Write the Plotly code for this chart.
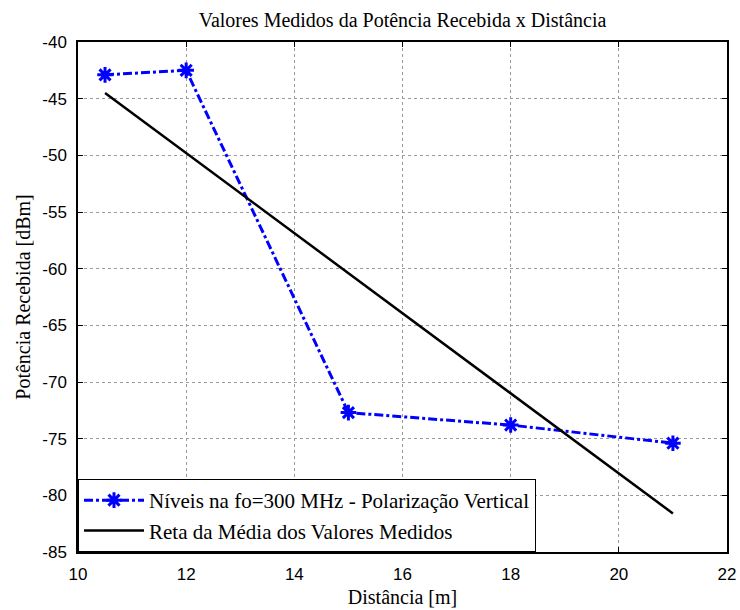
import plotly.graph_objects as go

dist = [10.5, 12, 15, 18, 21]
power = [-42.9, -42.5, -72.7, -73.8, -75.4]
fit_x = [10.5, 21]
fit_y = [-44.5, -81.6]
x_ticks = [10, 12, 14, 16, 18, 20, 22]
y_ticks = [-85, -80, -75, -70, -65, -60, -55, -50, -45, -40]
y_tick_labels = ["-85", "-80", "-75", "-70", "-65", "-60", "-55", "-50", "-45", "-40"]

serif = "Liberation Serif"
sans = "Liberation Sans"

fig = go.Figure()
fig.add_trace(go.Scatter(
    x=dist, y=power, mode="lines+markers",
    name="Níveis na fo=300 MHz - Polarização Vertical",
    line=dict(color="#0000ff", width=3, dash="dashdot"),
    marker=dict(symbol="asterisk-open", size=13, color="#0000ff",
                line=dict(color="#0000ff", width=3)),
))
fig.add_trace(go.Scatter(
    x=fit_x, y=fit_y, mode="lines",
    name="Reta da Média dos Valores Medidos",
    line=dict(color="black", width=2.5),
))

axis_common = dict(
    showline=True, linecolor="black", linewidth=1.5, mirror="ticks",
    ticks="inside", ticklen=5, tickcolor="black", automargin=False,
    showgrid=True, gridcolor="#9a9a9a", griddash="dot", gridwidth=1,
    zeroline=False, tickfont=dict(family=sans, size=17, color="black"),
)

fig.update_layout(
    width=740, height=610,
    margin=dict(l=78, r=13, t=42, b=58),
    paper_bgcolor="white", plot_bgcolor="white",
    font=dict(family=serif, color="black"),
    title=dict(text="Valores Medidos da Potência Recebida x Distância",
               font=dict(family=serif, size=20, color="black"),
               x=0.5, xref="paper", xanchor="center", y=0.968, yanchor="middle"),
    xaxis=dict(range=[10, 22], tickvals=x_ticks, ticklabelstandoff=6,
               title=dict(text="Distância [m]", font=dict(family=serif, size=20, color="black"), standoff=7),
               **axis_common),
    yaxis=dict(range=[-85, -40], tickvals=y_ticks, ticktext=y_tick_labels, ticklabelstandoff=6,
               title=dict(text="Potência Recebida [dBm]", font=dict(family=serif, size=20, color="black"), standoff=6),
               **axis_common),
    legend=dict(x=0, y=0, xanchor="left", yanchor="bottom",
                bgcolor="white", bordercolor="black", borderwidth=1,
                font=dict(family=serif, size=21, color="black"),
                tracegroupgap=0, itemwidth=60),
    showlegend=True,
)

fig.write_html("out.html")
